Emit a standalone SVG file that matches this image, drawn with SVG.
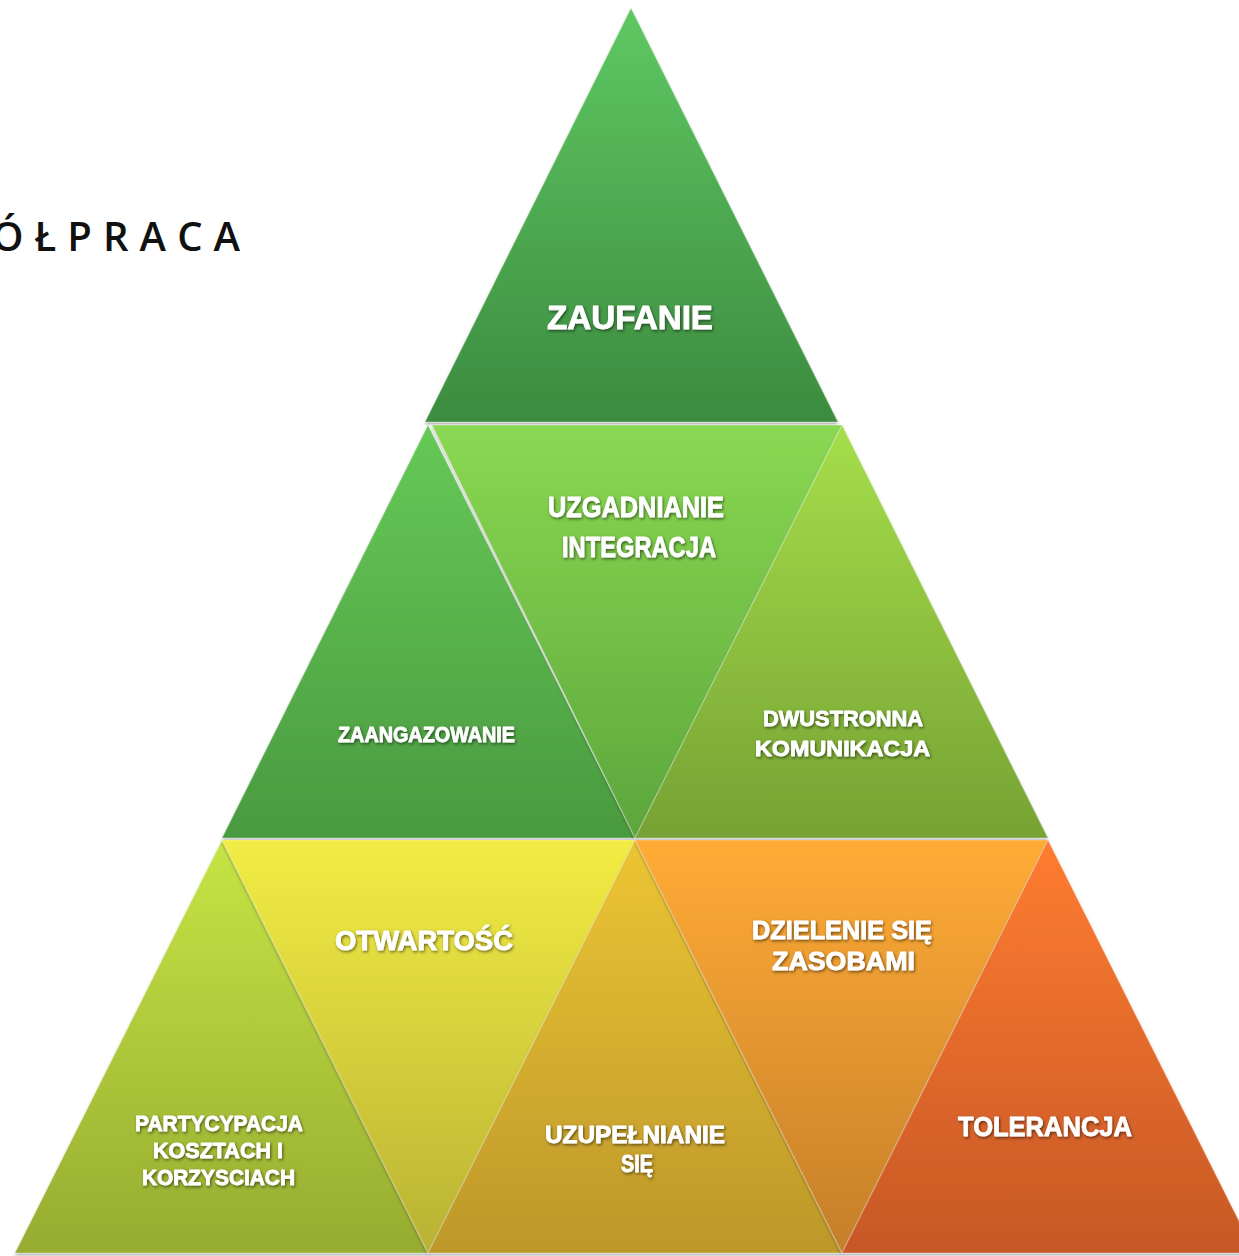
<svg xmlns="http://www.w3.org/2000/svg" width="1239" height="1256" viewBox="0 0 1239 1256">
<style>
.lbl{font-family:"Liberation Sans","Open Sans",sans-serif;font-weight:700;fill:#ffffff;stroke:#ffffff;stroke-width:0.8;stroke-linejoin:round;filter:url(#ts)}
.tri{stroke:rgba(255,255,255,0.22);stroke-width:1.5;stroke-linejoin:round;filter:url(#sh)}
.title{font-family:"Open Sans","Liberation Sans",sans-serif;font-weight:600;font-size:40px;fill:#111111}
</style>
<defs>
<filter id="ts" x="-10%" y="-30%" width="120%" height="160%">
<feDropShadow dx="1" dy="1.5" stdDeviation="1.6" flood-color="#000" flood-opacity="0.55"/>
</filter>
<filter id="sh" x="-5%" y="-5%" width="110%" height="110%">
<feDropShadow dx="0" dy="2" stdDeviation="1.5" flood-color="#000" flood-opacity="0.35"/>
</filter>
<linearGradient id="g1" x1="0" y1="0" x2="0" y2="1"><stop offset="0" stop-color="#5fc862"/><stop offset="1" stop-color="#3c8b3f"/></linearGradient>
<linearGradient id="g2" x1="0" y1="0" x2="0" y2="1"><stop offset="0" stop-color="#66c957"/><stop offset="1" stop-color="#4a9a40"/></linearGradient>
<linearGradient id="g3" x1="0" y1="0" x2="0" y2="1"><stop offset="0" stop-color="#8ad852"/><stop offset="1" stop-color="#5ca63c"/></linearGradient>
<linearGradient id="g4" x1="0" y1="0" x2="0" y2="1"><stop offset="0" stop-color="#a6de4a"/><stop offset="1" stop-color="#76a234"/></linearGradient>
<linearGradient id="g5" x1="0" y1="0" x2="0" y2="1"><stop offset="0" stop-color="#c6e444"/><stop offset="1" stop-color="#96ac31"/></linearGradient>
<linearGradient id="g6" x1="0" y1="0" x2="0" y2="1"><stop offset="0" stop-color="#f2ec44"/><stop offset="1" stop-color="#b9b233"/></linearGradient>
<linearGradient id="g7" x1="0" y1="0" x2="0" y2="1"><stop offset="0" stop-color="#ecc532"/><stop offset="1" stop-color="#bd972b"/></linearGradient>
<linearGradient id="g8" x1="0" y1="0" x2="0" y2="1"><stop offset="0" stop-color="#ffab36"/><stop offset="1" stop-color="#c57f29"/></linearGradient>
<linearGradient id="g9" x1="0" y1="0" x2="0" y2="1"><stop offset="0" stop-color="#ff7c30"/><stop offset="1" stop-color="#c65826"/></linearGradient>
</defs>
<rect width="1239" height="1256" fill="#ffffff"/>
<text class="title" x="-8" y="251" textLength="248" lengthAdjust="spacing">ÓŁPRACA</text>

<g id="zaufanie"><polygon class="tri" points="631,8 838,422 425,422" fill="url(#g1)"/>
<text class="lbl" x="547" y="329" font-size="34" textLength="166" lengthAdjust="spacingAndGlyphs">ZAUFANIE</text></g>

<g id="zaangazowanie"><polygon class="tri" points="428,425 635,838 222,838" fill="url(#g2)"/>
<text class="lbl" x="338" y="742" font-size="22" textLength="177" lengthAdjust="spacingAndGlyphs">ZAANGAZOWANIE</text></g>

<g id="uzgadnianie"><polygon class="tri" points="432,425 842,425 635,838" fill="url(#g3)"/>
<text class="lbl" x="548" y="517" font-size="30" textLength="176" lengthAdjust="spacingAndGlyphs">UZGADNIANIE</text>
<text class="lbl" x="562" y="557" font-size="30" textLength="154" lengthAdjust="spacingAndGlyphs">INTEGRACJA</text></g>

<g id="dwustronna"><polygon class="tri" points="842,425 1048,838 635,838" fill="url(#g4)"/>
<text class="lbl" x="763" y="726" font-size="22" textLength="160" lengthAdjust="spacingAndGlyphs">DWUSTRONNA</text>
<text class="lbl" x="755" y="756" font-size="22" textLength="175" lengthAdjust="spacingAndGlyphs">KOMUNIKACJA</text></g>

<g id="partycypacja"><polygon class="tri" points="222,840 428,1253 15,1253" fill="url(#g5)"/>
<text class="lbl" x="135" y="1131" font-size="22" textLength="168" lengthAdjust="spacingAndGlyphs">PARTYCYPACJA</text>
<text class="lbl" x="153" y="1158" font-size="22" textLength="130" lengthAdjust="spacingAndGlyphs">KOSZTACH I</text>
<text class="lbl" x="142" y="1185" font-size="22" textLength="153" lengthAdjust="spacingAndGlyphs">KORZYSCIACH</text></g>

<g id="otwartosc"><polygon class="tri" points="222,840 635,840 428,1253" fill="url(#g6)"/>
<text class="lbl" x="335" y="950" font-size="27" textLength="178" lengthAdjust="spacingAndGlyphs">OTWARTOŚĆ</text></g>

<g id="uzupelnianie"><polygon class="tri" points="635,840 842,1253 428,1253" fill="url(#g7)"/>
<text class="lbl" x="545" y="1143" font-size="24" textLength="180" lengthAdjust="spacingAndGlyphs">UZUPEŁNIANIE</text>
<text class="lbl" x="621" y="1172" font-size="24" textLength="32" lengthAdjust="spacingAndGlyphs">SIĘ</text></g>

<g id="dzielenie"><polygon class="tri" points="635,840 1048,840 842,1253" fill="url(#g8)"/>
<text class="lbl" x="752" y="939" font-size="26" textLength="180" lengthAdjust="spacingAndGlyphs">DZIELENIE SIĘ</text>
<text class="lbl" x="772" y="970" font-size="26" textLength="143" lengthAdjust="spacingAndGlyphs">ZASOBAMI</text></g>

<g id="tolerancja"><polygon class="tri" points="1048,840 1255,1253 842,1253" fill="url(#g9)"/>
<text class="lbl" x="958" y="1136" font-size="27" textLength="174" lengthAdjust="spacingAndGlyphs">TOLERANCJA</text></g>

<g id="connectors"></g>
</svg>
